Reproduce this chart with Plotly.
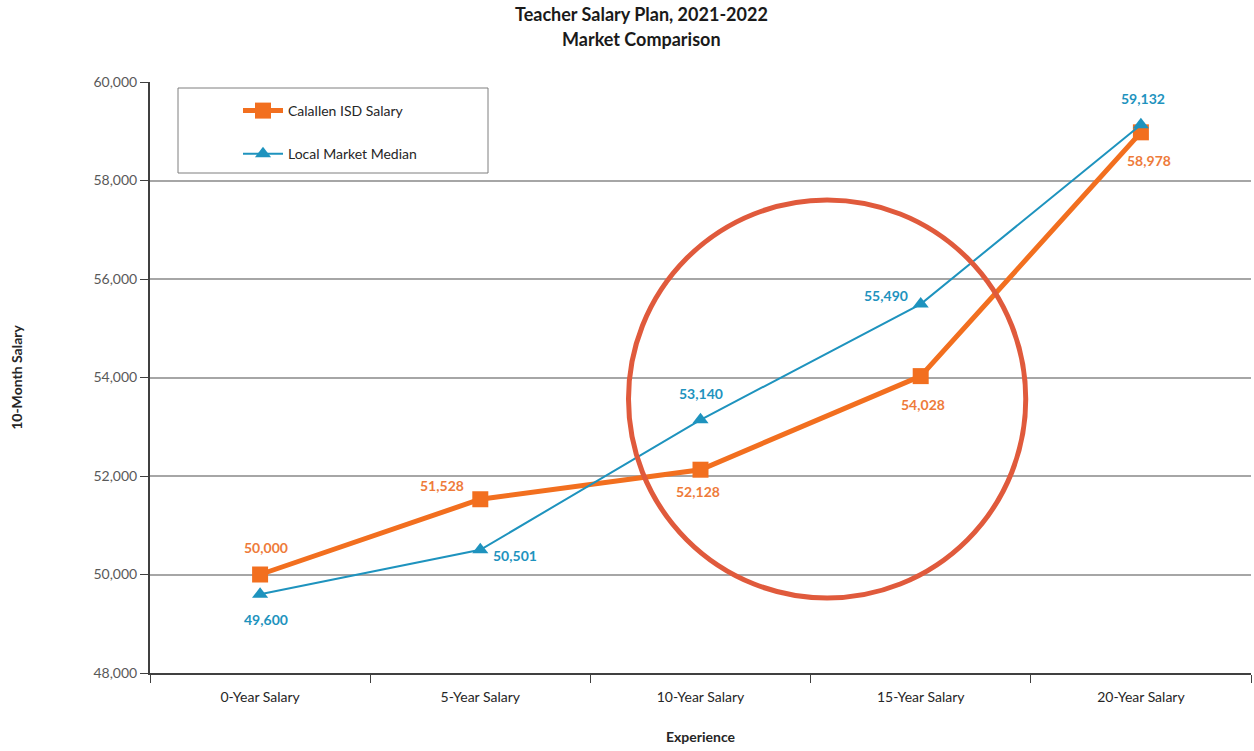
import plotly.graph_objects as go

categories = ["0-Year Salary", "5-Year Salary", "10-Year Salary", "15-Year Salary", "20-Year Salary"]
calallen = [50000, 51528, 52128, 54028, 58978]
market = [49600, 50501, 53140, 55490, 59132]

# label offsets in pixels (style only)
calallen_dx = [6, -38, -3, 2, 8]
calallen_dy = [-27, -14, 22, 28, 28]
market_dx = [6, 35, 0, -35, 2]
market_dy = [25, 6, -26, -9, -26]

ORANGE = "#F26F1F"
ORANGE_TXT = "#EE7B3A"
BLUE = "#1E93BE"
FONT = "Lato"

fig = go.Figure()
fig.add_trace(go.Scatter(
    x=categories, y=calallen, name="Calallen ISD Salary", mode="lines+markers",
    line=dict(color=ORANGE, width=5), marker=dict(symbol="square", size=16, color=ORANGE),
    legendgroup="a",
))
fig.add_trace(go.Scatter(
    x=categories, y=market, name="Local Market Median", mode="lines+markers",
    line=dict(color=BLUE, width=2), marker=dict(symbol="triangle-up", size=14, color=BLUE),
    legendgroup="b",
))

for cat, v, dx, dy in zip(categories, calallen, calallen_dx, calallen_dy):
    fig.add_annotation(x=cat, y=v, text=f"<b>{v:,}</b>", showarrow=False, xshift=dx, yshift=-dy,
                       font=dict(color=ORANGE_TXT, size=14, family=FONT))
for cat, v, dx, dy in zip(categories, market, market_dx, market_dy):
    fig.add_annotation(x=cat, y=v, text=f"<b>{v:,}</b>", showarrow=False, xshift=dx, yshift=-dy,
                       font=dict(color=BLUE, size=14, family=FONT))

# title lines
fig.add_annotation(xref="paper", yref="paper", x=(641-150)/1101, y=(673-14)/591,
                   yanchor="middle",
                   text="<b>Teacher Salary Plan, 2021-2022</b>", showarrow=False,
                   font=dict(size=18, color="#1a1a1a", family=FONT))
fig.add_annotation(xref="paper", yref="paper", x=(641-150)/1101, y=(673-39)/591,
                   yanchor="middle",
                   text="<b>Market Comparison</b>", showarrow=False,
                   font=dict(size=18, color="#1a1a1a", family=FONT))

# highlight circle
fig.add_shape(type="circle", xref="x", yref="y", x0=1.673, x1=3.477, y0=49523, y1=57604,
              line=dict(color="#E05A3C", width=5))
# legend box
fig.add_shape(type="rect", xref="paper", yref="paper", x0=(178-150)/1101, x1=(488-150)/1101,
              y0=(673-173)/591, y1=(673-88)/591, line=dict(color="#7f7f7f", width=1))

fig.update_layout(
    width=1254, height=751,
    margin=dict(l=150, r=3, t=82, b=78),
    plot_bgcolor="white", paper_bgcolor="white",
    font=dict(family=FONT, color="#595959", size=13),
    showlegend=True,
    legend=dict(x=(238-150)/1101, y=(673-95)/591, xanchor="left", yanchor="top",
                bgcolor="rgba(0,0,0,0)", borderwidth=0, tracegroupgap=22,
                font=dict(size=14, color="#262626", family=FONT), itemwidth=40),
    xaxis=dict(type="category", range=[-0.5, 4.5], tickson="boundaries", ticks="outside",
               ticklen=8, tickcolor="#404040", showline=True, linecolor="#404040", linewidth=2,
               showgrid=False, tickfont=dict(size=14, color="#262626"), ticklabelstandoff=10,
               title=dict(text="<b>Experience</b>", font=dict(size=14, color="#262626"), standoff=28)),
    yaxis=dict(range=[48000, 60000], dtick=2000, tickformat=",", ticks="outside", ticklen=8,
               tickcolor="#404040", showline=True, linecolor="#404040", linewidth=2,
               gridcolor="#a6a6a6", gridwidth=1.5, zeroline=False,
               tickfont=dict(size=14, color="#595959"),
               title=dict(text="<b>10-Month Salary</b>", font=dict(size=14, color="#262626"), standoff=68)),
)

fig.write_html("out.html")
